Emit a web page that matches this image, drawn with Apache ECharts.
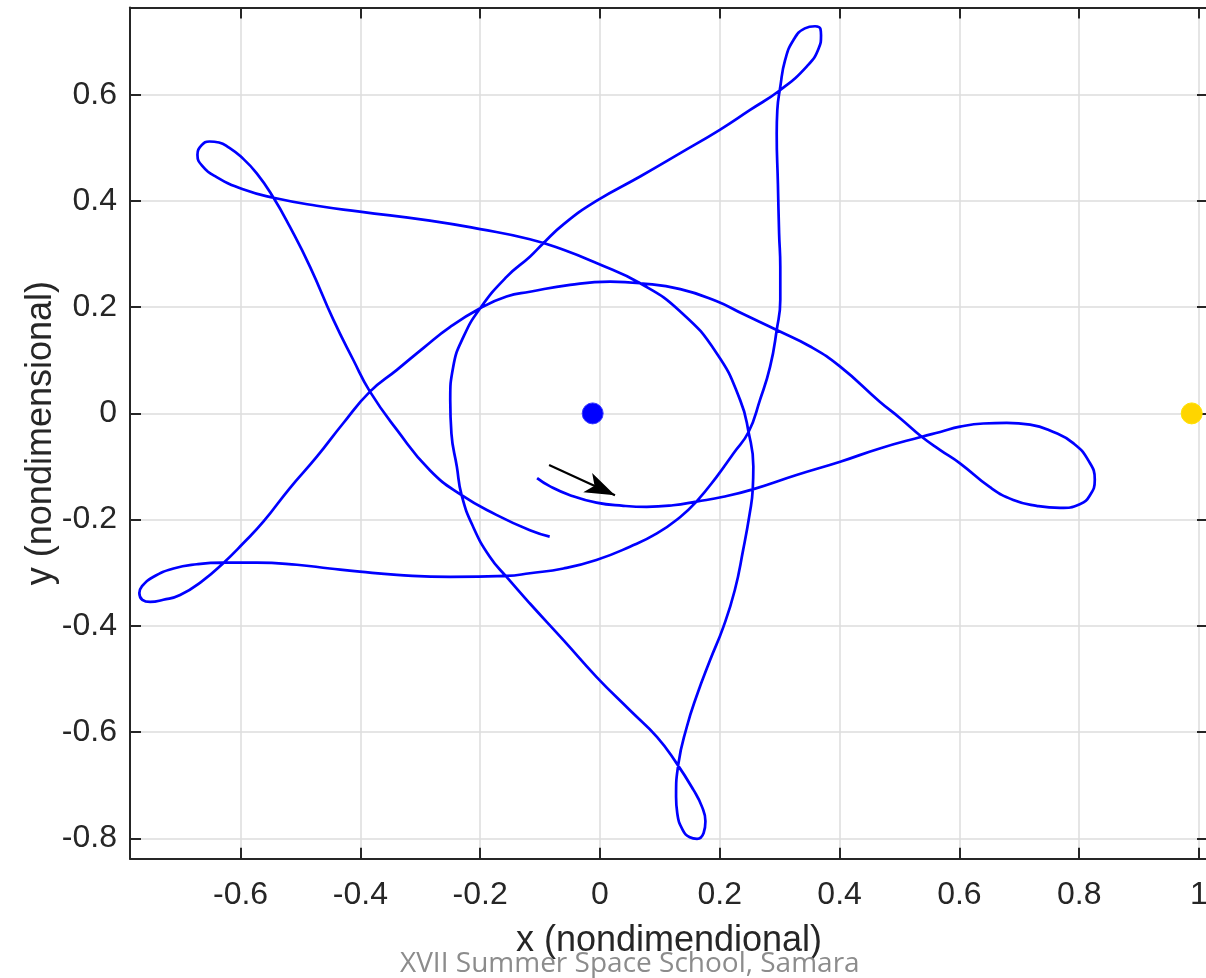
<!DOCTYPE html>
<html><head><meta charset="utf-8">
<script src="https://cdn.jsdelivr.net/npm/echarts@6/dist/echarts.min.js"></script>
<style>html,body{margin:0;padding:0;background:#fff;}#chart{width:1206px;height:978px;}</style>
</head><body><div id="chart"></div>
<script>
// Trajectory (rotating frame), in travel order
const trajX = [
-0.105,-0.084,-0.050,-0.006,0.039,0.078,0.122,0.161,0.206,0.255,0.328,0.401,0.467,0.537,
0.568,0.601,0.640,0.679,0.718,0.757,0.790,0.815,0.826,0.818,0.801,0.768,0.729,0.690,0.651,0.601,0.568,0.537,0.501,0.467,
0.401,0.351,0.295,0.239,0.195,0.134,0.067,0.017,-0.050,-0.117,-0.156,-0.200,-0.250,-0.295,-0.339,-0.384,-0.429,-0.473,-0.518,-0.562,-0.596,-0.629,
-0.662,-0.701,-0.729,-0.751,-0.764,-0.769,-0.765,-0.746,-0.712,-0.673,-0.629,
-0.573,-0.506,-0.451,-0.401,-0.339,-0.250,-0.156,-0.117,-0.061,-0.006,0.050,0.095,0.134,0.161,0.195,0.223,0.248,0.267,0.284,0.295,0.301,0.301,0.299,0.297,0.295,0.296,0.301,0.309,0.323,0.342,0.359,0.368,0.369,0.365,0.345,0.301,
0.250,0.200,0.134,0.067,-0.006,-0.061,-0.095,-0.117,-0.156,-0.200,-0.228,-0.245,-0.250,-0.248,-0.239,-0.231,-0.212,-0.184,-0.156,-0.117,-0.061,-0.006,0.050,0.095,0.128,
0.156,0.170,0.176,0.173,0.162,0.150,0.138,0.129,0.127,0.131,
0.145,0.161,0.184,0.206,0.225,0.239,0.250,0.255,0.256,0.248,0.234,0.195,0.134,0.067,-0.006,-0.061,-0.117,-0.200,-0.284,-0.401,-0.473,-0.545,
-0.596,-0.640,-0.664,-0.672,-0.665,-0.652,-0.636,-0.620,-0.600,-0.573,-0.545,
-0.518,-0.484,-0.445,-0.412,-0.384,-0.339,-0.284,-0.231,-0.173,-0.117,-0.084
];
const trajY = [
-0.122,-0.137,-0.154,-0.168,-0.174,-0.176,-0.173,-0.166,-0.157,-0.143,-0.116,-0.091,-0.066,-0.044,
-0.035,-0.025,-0.019,-0.018,-0.021,-0.035,-0.056,-0.088,-0.125,-0.154,-0.171,-0.178,-0.174,-0.163,-0.139,-0.094,-0.069,-0.044,-0.009,0.022,
0.088,0.126,0.157,0.187,0.211,0.234,0.245,0.248,0.242,0.229,0.220,0.198,0.163,0.123,0.082,0.041,-0.019,-0.082,-0.141,-0.204,-0.245,-0.282,
-0.314,-0.342,-0.351,-0.355,-0.351,-0.338,-0.326,-0.308,-0.292,-0.284,-0.281,
-0.281,-0.285,-0.292,-0.298,-0.304,-0.308,-0.306,-0.301,-0.292,-0.276,-0.251,-0.226,-0.195,-0.166,-0.119,-0.075,-0.035,0.025,0.088,0.157,0.214,0.276,0.339,0.433,0.527,0.571,0.615,0.665,0.703,0.725,0.729,0.724,0.712,0.687,0.653,0.609,
0.571,0.534,0.490,0.446,0.400,0.356,0.320,0.295,0.257,0.198,0.144,0.088,0.025,-0.038,-0.100,-0.154,-0.213,-0.270,-0.308,-0.358,-0.427,-0.496,-0.559,-0.609,-0.659,
-0.709,-0.740,-0.768,-0.790,-0.801,-0.798,-0.784,-0.753,-0.722,-0.659,
-0.590,-0.533,-0.464,-0.402,-0.333,-0.257,-0.188,-0.143,-0.100,-0.035,0.025,0.113,0.192,0.245,0.283,0.308,0.328,0.347,0.363,0.380,0.391,0.406,
0.422,0.445,0.466,0.487,0.505,0.512,0.510,0.501,0.484,0.452,0.406,
0.352,0.276,0.176,0.101,0.041,-0.031,-0.107,-0.154,-0.191,-0.220,-0.232
];
const earthPos = [-0.0122, 0];
const moonPos = [0.9878, 0];
const arrowFrom = [-0.085, -0.097];
const arrowTo = [0.025, -0.154];
const xRange = [-0.7846, 1.015];
const yRange = [-0.8385, 0.7643];
const tickStep = 0.2;
const xTitle = 'x (nondimendional)';
const yTitle = 'y (nondimensional)';
const footerText = 'XVII Summer Space School, Samara';

const trajData = trajX.map((x, i) => [x, trajY[i]]);
const AX = '#262626';
const FONT = '"Liberation Sans", Arial, Helvetica, sans-serif';
function tickFmt(v) {
  const k = v / tickStep;
  if (Math.abs(k - Math.round(k)) > 1e-6) return '';
  return String(Number(v.toFixed(1)) + 0);
}
function baseAxis(extra) {
  return Object.assign({
    type: 'value',
    axisLine: { show: true, onZero: false, lineStyle: { color: AX, width: 2 } },
    axisTick: { show: true, inside: true, length: 11, lineStyle: { color: AX, width: 2 } },
    splitLine: { show: false },
    axisLabel: { show: false }
  }, extra);
}
const chart = echarts.init(document.getElementById('chart'), null, { renderer: 'canvas' });
chart.setOption({
  animation: false,
  backgroundColor: '#ffffff',
  grid: { left: 130, top: 7.5, right: -2, bottom: 119.3, containLabel: false, outerBoundsMode: 'none' },
  xAxis: [
    baseAxis({
      position: 'bottom', min: xRange[0], max: xRange[1], splitNumber: 9,
      splitLine: { show: true, lineStyle: { color: '#dcdcdc', width: 1.5 } },
      axisLabel: { show: true, interval: 0, showMinLabel: false, showMaxLabel: false, hideOverlap: false,
        formatter: tickFmt, color: AX, fontSize: 32, fontFamily: FONT, margin: 20 },
      name: xTitle, nameLocation: 'middle', nameGap: 64, nameMoveOverlap: false,
      nameTextStyle: { color: AX, fontSize: 36, fontFamily: FONT }
    }),
    baseAxis({ position: 'top', min: xRange[0], max: xRange[1], splitNumber: 9 })
  ],
  yAxis: [
    baseAxis({
      position: 'left', min: yRange[0], max: yRange[1], splitNumber: 8,
      splitLine: { show: true, lineStyle: { color: '#dcdcdc', width: 1.5 } },
      axisLabel: { show: true, interval: 0, showMinLabel: false, showMaxLabel: false, hideOverlap: false,
        formatter: tickFmt, color: AX, fontSize: 32, fontFamily: FONT, margin: 13 },
      name: yTitle, nameLocation: 'middle', nameGap: 71, nameMoveOverlap: false,
      nameTextStyle: { color: AX, fontSize: 36, fontFamily: FONT }
    }),
    baseAxis({ position: 'right', min: yRange[0], max: yRange[1], splitNumber: 8 })
  ],
  series: [
    {
      type: 'line', name: 'trajectory', data: trajData, smooth: 0.5, showSymbol: false,
      lineStyle: { color: '#0000ff', width: 2.7 }, itemStyle: { color: '#0000ff' }, z: 3
    },
    {
      type: 'scatter', name: 'Earth', data: [earthPos], symbol: 'circle', symbolSize: 21,
      itemStyle: { color: '#0000ff', borderColor: '#3a3aff', borderWidth: 1, opacity: 1 }, z: 4
    },
    {
      type: 'scatter', name: 'Moon', data: [moonPos], symbol: 'circle', symbolSize: 21,
      itemStyle: { color: '#ffd500', borderColor: '#ffe200', borderWidth: 1, opacity: 1 }, z: 4
    },
    {
      type: 'lines', coordinateSystem: 'cartesian2d', xAxisIndex: 0, yAxisIndex: 0,
      symbol: ['none', 'arrow'], symbolSize: [0, [16, 30]],
      lineStyle: { color: '#000000', width: 2.2, opacity: 1, curveness: 0 },
      data: [{ coords: [arrowFrom, arrowTo] }], z: 5
    }
  ],
  graphic: [{
    type: 'text', left: 400, top: 950, z: 100,
    style: { text: footerText, fontSize: 28, fontFamily: '"Open Sans", "Noto Sans", sans-serif', fill: '#8c8c8c' }
  }]
});
</script></body></html>
